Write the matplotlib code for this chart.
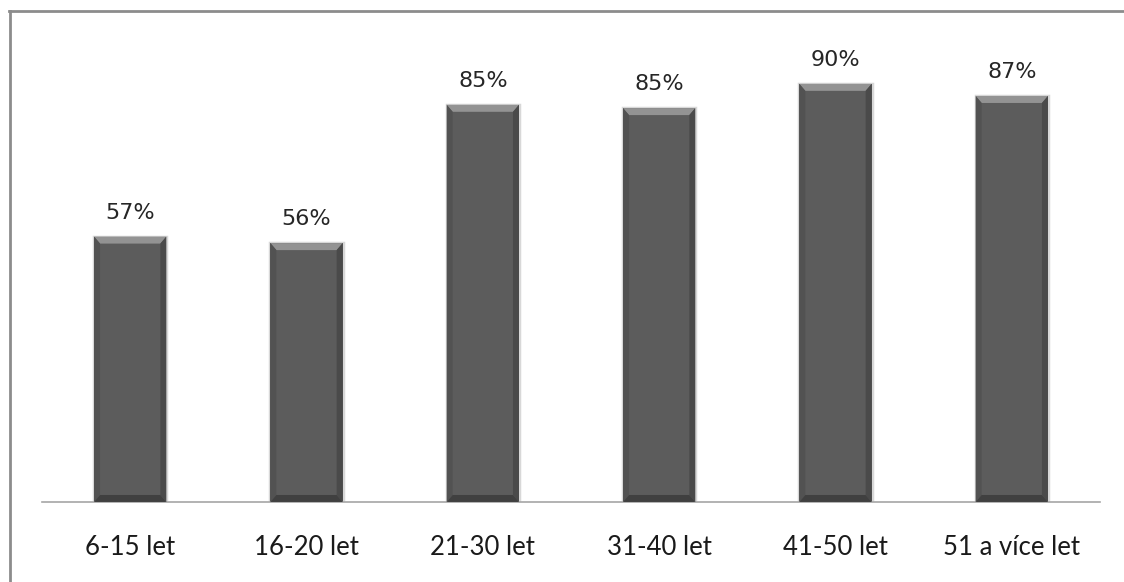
import numpy as np
import matplotlib.pyplot as plt
from matplotlib.patches import Polygon
from matplotlib.lines import Line2D

categories = ['6-15 let', '16-20 let', '21-30 let', '31-40 let', '41-50 let', '51 a více let']
values = [57.0, 55.6, 85.3, 84.6, 89.8, 87.2]

fig = plt.figure(figsize=(11.24, 5.82), dpi=100)
ax = fig.add_axes([0.0374, 0.1375, 0.9412, 0.80])

x = np.arange(len(categories))
bars = ax.bar(x, values, width=0.41, color='#5c5c5c', zorder=2)

ax.set_xlim(-0.5, len(categories) - 0.5)
ax.set_ylim(0, 100)

# bevel size in pixels -> data units
fig.canvas.draw()
px_x = ax.transData.transform((1, 0))[0] - ax.transData.transform((0, 0))[0]
px_y = ax.transData.transform((0, 1))[1] - ax.transData.transform((0, 0))[1]
bx = 6 / px_x
by = 7 / px_y

for b in bars:
    x0, w, h = b.get_x(), b.get_width(), b.get_height()
    x1 = x0 + w
    # top bevel
    ax.add_patch(Polygon([(x0, h), (x1, h), (x1 - bx, h - by), (x0 + bx, h - by)],
                         closed=True, fc='#939393', ec='none', zorder=3))
    # left / right bevel
    ax.add_patch(Polygon([(x0, h), (x0 + bx, h - by), (x0 + bx, by), (x0, 0)],
                         closed=True, fc='#525252', ec='none', zorder=3))
    ax.add_patch(Polygon([(x1, h), (x1 - bx, h - by), (x1 - bx, by), (x1, 0)],
                         closed=True, fc='#4a4a4a', ec='none', zorder=3))
    # bottom bevel
    ax.add_patch(Polygon([(x0, 0), (x1, 0), (x1 - bx, by), (x0 + bx, by)],
                         closed=True, fc='#404040', ec='none', zorder=3))
    # soft shadow
    ax.add_patch(Polygon([(x0, 0), (x1, 0), (x1, h), (x0, h)], closed=True,
                         fc='none', ec='#d8d8d8', lw=2.5, zorder=1))
    ax.annotate(f'{h:.0f}%', (b.get_x() + w / 2, h), xytext=(0, 10),
                textcoords='offset points', ha='center', va='bottom',
                fontsize=16, color='#262626', family=['DejaVu Sans'])

ax.set_xticks(x)
ax.set_xticklabels(categories, fontsize=18.5, color='#1a1a1a', family=['Lato', 'DejaVu Sans'])
ax.tick_params(axis='x', length=0, pad=24)
ax.set_yticks([])
for s in ['top', 'left', 'right']:
    ax.spines[s].set_visible(False)
ax.spines['bottom'].set_color('#a6a6a6')
ax.spines['bottom'].set_linewidth(1.2)

# outer border (top and left visible)
fig.add_artist(Line2D([8.5 / 1124, 1.01], [1 - 11 / 582, 1 - 11 / 582],
                      transform=fig.transFigure, color='#8c8c8c', lw=2))
fig.add_artist(Line2D([9.5 / 1124, 9.5 / 1124], [1 - 11 / 582, -0.01],
                      transform=fig.transFigure, color='#8c8c8c', lw=2))

fig.savefig('out.png', dpi=100)
